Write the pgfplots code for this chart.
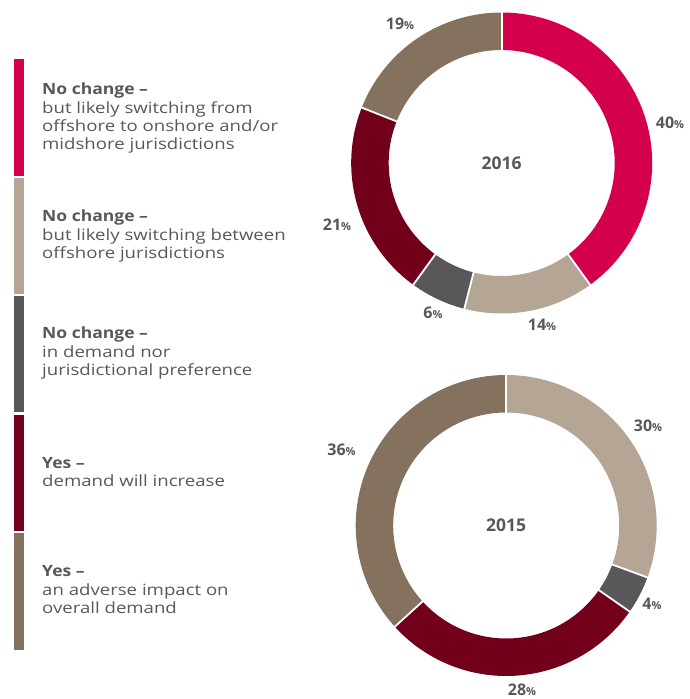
\documentclass[border=0pt]{standalone}
\usepackage{pgfplots}
\pgfplotsset{compat=1.18}
\usepackage{pgfplotstable}
\usepackage{fontspec}
\setmainfont{Open Sans}
\newfontfamily\legfont{Open Sans}[FakeStretch=1.2, BoldFeatures={FakeStretch=1.13}]
\definecolor{cRed}{HTML}{D4004C}
\definecolor{cTan}{HTML}{B4A595}
\definecolor{cGray}{HTML}{58585A}
\definecolor{cMaroon}{HTML}{72001B}
\definecolor{cBrown}{HTML}{84725E}
\definecolor{txt}{HTML}{58585A}

\pgfplotstableread{
val col
40 cRed
14 cTan
6 cGray
21 cMaroon
19 cBrown
}\tabA
\pgfplotstableread{
val col
30 cTan
4 cGray
28 cMaroon
36 cBrown
}\tabB

\newcommand\donut[3]{%
 \pgfplotstablegetrowsof{#1}%
 \pgfmathtruncatemacro\nlast{\pgfplotsretval-1}%
 \def\tot{0}%
 \pgfplotsforeachungrouped \i in {0,...,\nlast}{%
   \pgfplotstablegetelem{\i}{val}\of{#1}%
   \pgfmathsetmacro\tot{\tot+\pgfplotsretval}}%
 \def\cur{90}%
 \pgfplotsforeachungrouped \i in {0,...,\nlast}{%
   \pgfplotstablegetelem{\i}{val}\of{#1}\edef\segval{\pgfplotsretval}%
   \pgfplotstablegetelem{\i}{col}\of{#1}\edef\segcol{\pgfplotsretval}%
   \pgfmathsetmacro\nxt{\cur-\segval/\tot*360}%
   \edef\cmd{\noexpand\addplot[draw=\segcol, line width=37.5pt, line cap=butt, domain=\nxt:\cur, samples=100, variable=\noexpand\t] ({#2+131.75*cos(\noexpand\t)},{#3+131.75*sin(\noexpand\t)});}%
   \cmd
   \let\cur\nxt}%
 \def\cur{90}%
 \pgfplotsforeachungrouped \i in {0,...,\nlast}{%
   \pgfplotstablegetelem{\i}{val}\of{#1}\edef\segval{\pgfplotsretval}%
   \pgfmathsetmacro\xa{#2+112*cos(\cur)}%
   \pgfmathsetmacro\ya{#3+112*sin(\cur)}%
   \pgfmathsetmacro\xb{#2+151.5*cos(\cur)}%
   \pgfmathsetmacro\yb{#3+151.5*sin(\cur)}%
   \edef\cmd{\noexpand\addplot[draw=white, line width=1.8pt] coordinates {(\xa,\ya) (\xb,\yb)};}%
   \cmd
   \pgfmathsetmacro\nxt{\cur-\segval/\tot*360}%
   \let\cur\nxt}%
}

\newcommand\pct[1]{{\fontsize{16}{18}\selectfont\bfseries #1{\fontsize{11}{12}\selectfont\%}}}

\begin{document}
\begin{tikzpicture}
\begin{axis}[width=689pt,height=699pt,scale only axis,
  xmin=0,xmax=689,ymin=0,ymax=699,hide axis,clip=false]
\path (axis cs:0,0) rectangle (axis cs:689,699);
% legend bars
\addplot[fill=cRed, draw=none] coordinates {(14,640) (24.3,640) (24.3,523) (14,523)} -- cycle;
\addplot[fill=cTan, draw=none] coordinates {(14,520.5) (24.3,520.5) (24.3,405) (14,405)} -- cycle;
\addplot[fill=cGray, draw=none] coordinates {(14,402.5) (24.3,402.5) (24.3,286.7) (14,286.7)} -- cycle;
\addplot[fill=cMaroon, draw=none] coordinates {(14,284) (24.3,284) (24.3,168) (14,168)} -- cycle;
\addplot[fill=cBrown, draw=none] coordinates {(14,165.5) (24.3,165.5) (24.3,49) (14,49)} -- cycle;
% donuts
\donut{\tabA}{501.7}{536}
\donut{\tabB}{506.2}{173.5}
% legend text
\begin{scope}[every node/.style={anchor=base west, inner sep=0, text=txt, font=\legfont\fontsize{15.5}{18}\selectfont}]
\node at (axis cs:42,604) {\bfseries No change –};
\node at (axis cs:42,585.7) {but likely switching from};
\node at (axis cs:42,567.3) {offshore to onshore and/or};
\node at (axis cs:42,549) {midshore jurisdictions};
\node at (axis cs:42,477) {\bfseries No change –};
\node at (axis cs:42,458.5) {but likely switching between};
\node at (axis cs:42,440) {offshore jurisdictions};
\node at (axis cs:42,360) {\bfseries No change –};
\node at (axis cs:42,341.5) {in demand nor};
\node at (axis cs:42,323) {jurisdictional preference};
\node at (axis cs:42,230.5) {\bfseries Yes –};
\node at (axis cs:42,212.2) {demand will increase};
\node at (axis cs:42,122) {\bfseries Yes –};
\node at (axis cs:42,103.7) {an adverse impact on};
\node at (axis cs:42,85.4) {overall demand};
\end{scope}
% centre labels
\node[text=txt, inner sep=0, font=\fontsize{17.5}{18}\selectfont\bfseries] at (axis cs:501.7,536) {2016};
\node[text=txt, inner sep=0, font=\fontsize{17.5}{18}\selectfont\bfseries] at (axis cs:506.2,173.5) {2015};
% percentage labels
\begin{scope}[every node/.style={inner sep=0, text=txt}]
\node at (axis cs:670,576.5) {\pct{40}};
\node at (axis cs:542,374) {\pct{14}};
\node at (axis cs:433,385.7) {\pct{6}};
\node at (axis cs:337,474) {\pct{21}};
\node at (axis cs:400,675) {\pct{19}};
\node at (axis cs:648,273) {\pct{30}};
\node at (axis cs:652,95) {\pct{4}};
\node at (axis cs:522,9) {\pct{28}};
\node at (axis cs:341.5,249) {\pct{36}};
\end{scope}
\end{axis}
\end{tikzpicture}
\end{document}
